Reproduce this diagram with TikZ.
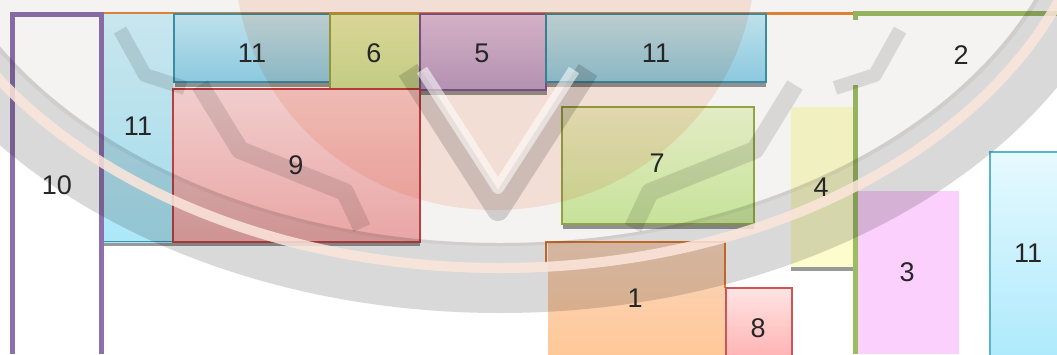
\documentclass[tikz,border=0pt]{standalone}
\usepackage{fontspec}
\setmainfont{Liberation Sans}
\definecolor{bluetop}{HTML}{C8ECF8}
\definecolor{bluebot}{HTML}{92D4EC}
\definecolor{blueline}{HTML}{3C93AD}
\definecolor{lbtop}{HTML}{D2F2FB}
\definecolor{lbbot}{HTML}{ACE8F9}
\definecolor{rbtop}{HTML}{E6F9FE}
\definecolor{rbbot}{HTML}{AEEAFC}
\definecolor{rbline}{HTML}{5AB4CC}
\definecolor{sixtop}{HTML}{E6F6B4}
\definecolor{sixbot}{HTML}{CEEC9E}
\definecolor{sixline}{HTML}{9AAA44}
\definecolor{fivetop}{HTML}{E0CCEC}
\definecolor{fivebot}{HTML}{BEA8D6}
\definecolor{fiveline}{HTML}{7D5C9C}
\definecolor{ninetop}{HTML}{FCD8D8}
\definecolor{ninebot}{HTML}{F4AEAE}
\definecolor{nineline}{HTML}{C04545}
\definecolor{seventop}{HTML}{EEF8D0}
\definecolor{sevenbot}{HTML}{D0EEA2}
\definecolor{sevenline}{HTML}{98AD48}
\definecolor{fourfill}{HTML}{FCFCCC}
\definecolor{threefill}{HTML}{FBD0FC}
\definecolor{onetop}{HTML}{FAD6BE}
\definecolor{onebot}{HTML}{FFC898}
\definecolor{oneline}{HTML}{E07A30}
\definecolor{eighttop}{HTML}{FFE4E4}
\definecolor{eightbot}{HTML}{FFB4B4}
\definecolor{eightline}{HTML}{CC5555}
\definecolor{tenline}{HTML}{8C70AC}
\definecolor{twoline}{HTML}{9CBC64}
\definecolor{topline}{HTML}{E8883A}
\definecolor{wmgray}{HTML}{D9D9D9}
\definecolor{wmpetal}{HTML}{E2E2E2}
\definecolor{wmpeach}{HTML}{FDE9E1}
\definecolor{wminner}{HTML}{F4F3F2}
\definecolor{wmstripe}{HTML}{FCE6DC}
\begin{document}
\begin{tikzpicture}[x=1pt,y=-1pt,
  lbl/.style={text=black!85,font=\fontsize{27}{30}\selectfont,inner sep=0pt},
  shadowbar/.style={fill=black!40},
  bluebox/.style={draw=blueline,line width=1.5pt,top color=bluetop,bottom color=bluebot},
  wmband/.style={draw=wmgray,line join=round},
  wmpetalline/.style={draw=wmpetal,line join=round}]
\useasboundingbox (0,0) rectangle (1057,354);
\fill[white] (0,0) rectangle (1057,354);
% top orange line
\draw[draw=topline,line width=3pt] (104,13) -- (855,13);
% region 10
\draw[draw=tenline,line width=5pt] (12.5,354) -- (12.5,14.5) -- (101.5,14.5) -- (101.5,354);
% region 2
\draw[draw=twoline,line width=5pt] (855.5,20) -- (855.5,13.5) -- (1057,13.5);
\draw[draw=twoline,line width=5pt] (855.5,85) -- (855.5,354);
% shadows
\fill[shadowbar] (104,242) rectangle (420,246);
\fill[shadowbar] (175,83) rectangle (330,87);
\fill[shadowbar] (421,91) rectangle (547,95);
\fill[shadowbar] (547,83) rectangle (766,87);
\fill[shadowbar] (563,225) rectangle (754,229);
\fill[shadowbar] (791,267) rectangle (853,271);
% left 11
\shade[top color=lbtop,bottom color=lbbot] (104,14) rectangle (173,242);
\draw[blueline,line width=1.2pt] (104,241.5) -- (173,241.5);
% top 11
\filldraw[bluebox] (174,14) rectangle (330,82);
% 6
\filldraw[draw=sixline,line width=1.5pt,top color=sixtop,bottom color=sixbot] (330,14) rectangle (420,89);
% 5
\filldraw[draw=fiveline,line width=1.5pt,top color=fivetop,bottom color=fivebot] (420,14) rectangle (546,90);
% top right 11
\filldraw[bluebox] (546,14) rectangle (766,82);
% 9
\filldraw[draw=nineline,line width=2pt,top color=ninetop,bottom color=ninebot] (173,89) rectangle (420,242);
% 7
\filldraw[draw=sevenline,line width=1.5pt,top color=seventop,bottom color=sevenbot] (562,107) rectangle (754,224);
% 4
\fill[fourfill] (791,107) rectangle (853,267);
% 3
\fill[threefill] (858,191) rectangle (959,354);
% right 11
\filldraw[draw=rbline,line width=1.5pt,top color=rbtop,bottom color=rbbot] (990,152) rectangle (1060,356);
% 1
\shade[top color=onetop,bottom color=onebot] (548,242) rectangle (725,354);
\draw[draw=oneline,line width=1.5pt] (546,263) -- (546,242) -- (725,242) -- (725,288);
% 8
\filldraw[draw=eightline,line width=1.5pt,top color=eighttop,bottom color=eightbot] (726,288) rectangle (792,356);
% watermark (multiplied over the plan)
\begin{scope}[blend mode=multiply]
\clip (0,0) rectangle (1057,354);
\fill[wminner] (500,-150) ellipse (582 and 396);
\fill[wmpeach] (495,-40) ellipse (260 and 250);
\draw[wmband,line width=70pt] (500,-150) ellipse (613 and 428);
% centre shield
\draw[wmband,line width=22pt] (408,70) -- (498,210) -- (588,70);
% side petals
\draw[wmpetalline,line width=18pt] (200,85) -- (240,150) -- (345,192) -- (362,228);
\draw[wmpetalline,line width=18pt] (795,85) -- (755,150) -- (650,192) -- (633,228);
\draw[wmpetalline,line width=14pt] (120,30) -- (145,75) -- (185,88);
\draw[wmpetalline,line width=14pt] (900,30) -- (875,75) -- (835,88);
\end{scope}
\begin{scope}
\clip (0,0) rectangle (1057,354);
\draw[white,opacity=0.55,line width=12pt,line join=round] (422,70) -- (498,188) -- (574,70);
\draw[wmstripe,opacity=0.85,line width=10pt] (500,-150) ellipse (599 and 418);
\end{scope}
% labels
\node[lbl] (n10) at (57,185) {10};
\node[lbl] (n2) at (961,55) {2};
\node[lbl] (n11a) at (138,126) {11};
\node[lbl] (n11b) at (252,53) {11};
\node[lbl] (n6) at (374,53) {6};
\node[lbl] (n5) at (482,53) {5};
\node[lbl] (n11c) at (656,53) {11};
\node[lbl] (n9) at (296,165) {9};
\node[lbl] (n7) at (657,163) {7};
\node[lbl] (n4) at (821,187) {4};
\node[lbl] (n3) at (907,272) {3};
\node[lbl] (n11d) at (1028,253) {11};
\node[lbl] (n1) at (635,298) {1};
\node[lbl] (n8) at (758,328) {8};
\end{tikzpicture}
\end{document}
